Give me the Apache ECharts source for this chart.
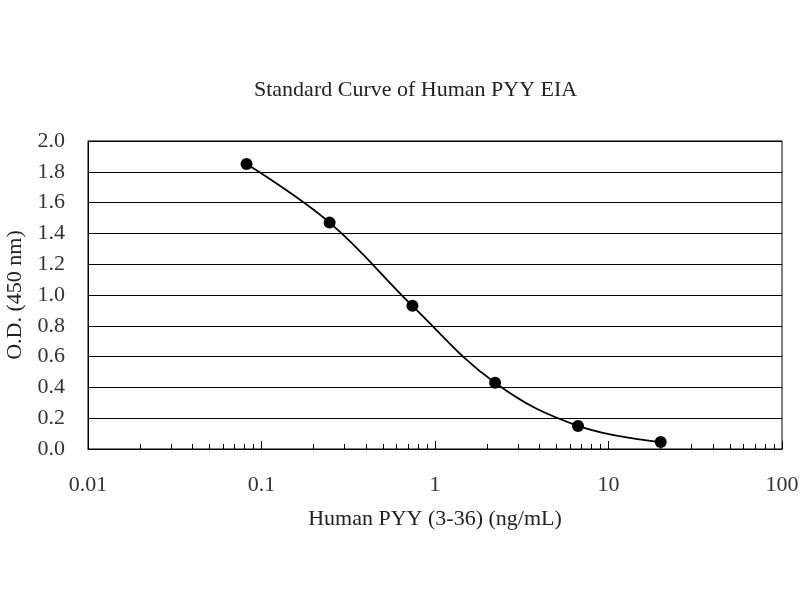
<!DOCTYPE html>
<html>
<head>
<meta charset="utf-8">
<script src="https://cdn.jsdelivr.net/npm/echarts@6/dist/echarts.min.js"></script>
<style>
  html, body { margin: 0; padding: 0; background: #fff; }
  #chart { width: 800px; height: 600px; }
</style>
</head>
<body>
<div id="chart"></div>
<script>
const conc = [0.082, 0.247, 0.741, 2.22, 6.67, 20];
const od = [1.85, 1.47, 0.93, 0.43, 0.15, 0.045];
const majorTicks = [0.01, 0.1, 1, 10, 100];
const minorSteps = [2, 3, 4, 5, 6, 7, 8, 9];

const minorTicks = [];
majorTicks.slice(0, -1).forEach(d => minorSteps.forEach(s => minorTicks.push(+(d * s).toPrecision(3))));

const FONT = "Liberation Serif";
const chart = echarts.init(document.getElementById("chart"));

chart.setOption({
  animation: false,
  title: {
    text: "Standard Curve of Human PYY EIA",
    left: 249, top: 74,
    textStyle: { fontFamily: FONT, fontSize: 22, fontWeight: "normal", color: "#222" }
  },
  grid: {
    left: 88, right: 18, top: 141, bottom: 151,
    outerBoundsMode: "none", containLabel: false,
    show: true, borderColor: "#000", borderWidth: 1
  },
  xAxis: [
    {
      type: "log", logBase: 10, min: 0.01, max: 100,
      name: "Human PYY (3-36) (ng/mL)", nameLocation: "middle", nameGap: 59,
      nameTextStyle: { fontFamily: FONT, fontSize: 22, color: "#222" },
      axisLine: { lineStyle: { color: "#000", width: 1 } },
      axisTick: { inside: true, length: 8, lineStyle: { color: "#000" } },
      axisLabel: { margin: 25, fontFamily: FONT, fontSize: 22, color: "#333" },
      splitLine: { show: false }
    },
    {
      type: "log", logBase: 10, min: 0.01, max: 100, position: "bottom",
      axisLine: { show: false },
      axisTick: { inside: true, length: 5, customValues: minorTicks, lineStyle: { color: "#000" } },
      axisLabel: { show: false },
      splitLine: { show: false }
    }
  ],
  yAxis: {
    type: "value", min: 0, max: 2, interval: 0.2,
    name: "O.D. (450 nm)", nameLocation: "middle", nameGap: 53,
    nameTextStyle: { fontFamily: FONT, fontSize: 22, color: "#222" },
    axisLine: { show: true, lineStyle: { color: "#000" } },
    axisTick: { show: false },
    axisLabel: { margin: 23, fontFamily: FONT, fontSize: 22, color: "#333", formatter: v => v.toFixed(1) },
    splitLine: { lineStyle: { color: "#000", width: 1 } }
  },
  series: [{
    type: "line",
    data: conc.map((c, i) => [c, od[i]]),
    smooth: 0.4,
    symbol: "circle", symbolSize: 12,
    itemStyle: { color: "#000" },
    lineStyle: { color: "#000", width: 1.8 }
  }]
});
</script>
</body>
</html>
